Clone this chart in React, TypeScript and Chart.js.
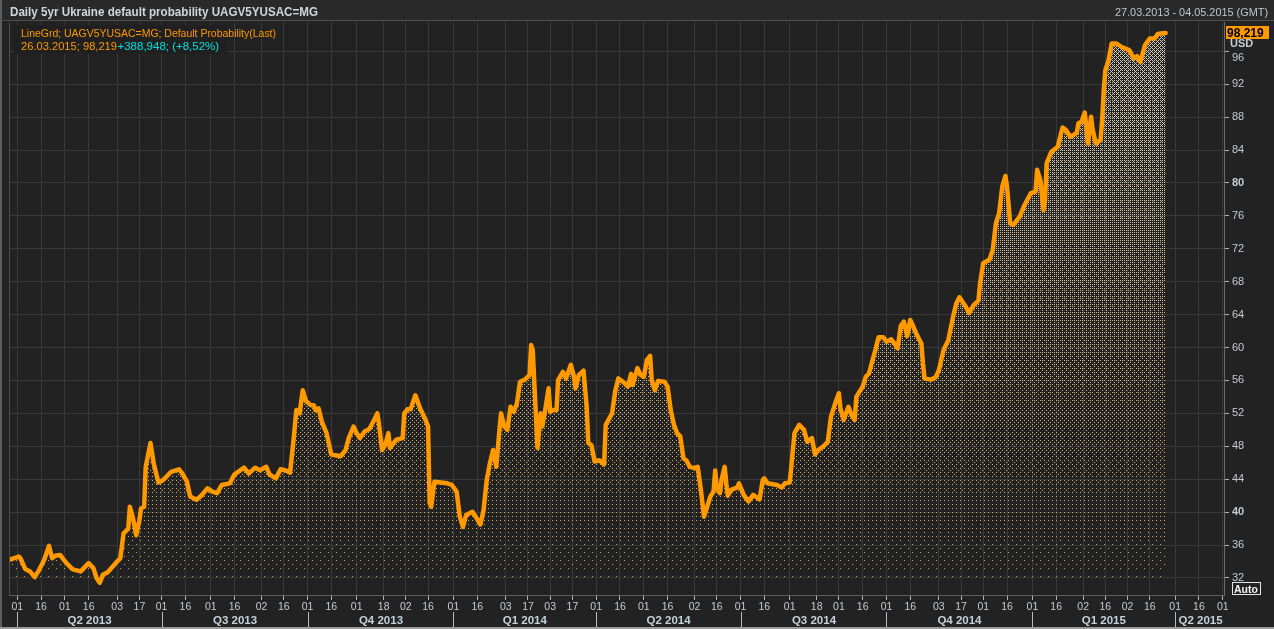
import React, { useEffect, useRef } from 'react';
import { Chart, registerables } from 'chart.js';

Chart.register(...registerables);

const W = 1274;
const H = 629;
const ORANGE = '#ff9900';
const CYAN = '#00e0e0';
const BG = '#212221';
const GRID = '#383938';
const TEXT = '#c4ccd4';
const FONT = '"Liberation Sans", Arial, sans-serif';

const title = 'Daily 5yr Ukraine default probability UAGV5YUSAC=MG';
const rangeText = '27.03.2013 - 04.05.2015 (GMT)';
const legendLine1 = 'LineGrd; UAGV5YUSAC=MG; Default Probability(Last)';
const legendLine2a = '26.03.2015; 98,219';
const legendLine2b = '+388,948; (+8,52%)';
const lastValueLabel = '98,219';
const unitLabel = 'USD';

const dates = [
  '2013-03-27', '2013-04-02', '2013-04-03', '2013-04-06', '2013-04-09', '2013-04-12', '2013-04-15', '2013-04-18', '2013-04-21', '2013-04-23', '2013-04-25', '2013-04-28',
  '2013-05-02', '2013-05-06', '2013-05-11', '2013-05-16', '2013-05-19', '2013-05-21', '2013-05-23', '2013-05-25', '2013-05-28',
  '2013-06-02', '2013-06-05', '2013-06-07', '2013-06-10', '2013-06-11', '2013-06-13', '2013-06-15', '2013-06-17', '2013-06-18', '2013-06-20', '2013-06-21', '2013-06-24', '2013-06-26', '2013-06-29',
  '2013-07-02', '2013-07-04', '2013-07-07', '2013-07-12', '2013-07-14', '2013-07-17', '2013-07-19', '2013-07-23', '2013-07-26', '2013-07-30',
  '2013-08-02', '2013-08-05', '2013-08-08', '2013-08-13', '2013-08-16', '2013-08-22', '2013-08-25', '2013-08-29',
  '2013-09-01', '2013-09-05', '2013-09-07', '2013-09-11', '2013-09-14', '2013-09-17', '2013-09-20', '2013-09-22', '2013-09-24', '2013-09-26', '2013-09-28', '2013-09-30',
  '2013-10-03', '2013-10-05', '2013-10-06', '2013-10-08', '2013-10-10', '2013-10-13', '2013-10-16', '2013-10-22', '2013-10-25', '2013-10-27', '2013-10-30',
  '2013-11-01', '2013-11-03', '2013-11-06', '2013-11-09', '2013-11-12', '2013-11-14', '2013-11-15', '2013-11-17', '2013-11-19', '2013-11-21', '2013-11-22', '2013-11-26', '2013-11-30',
  '2013-12-01', '2013-12-03', '2013-12-05', '2013-12-08', '2013-12-11', '2013-12-14', '2013-12-16', '2013-12-17', '2013-12-18', '2013-12-20', '2013-12-28', '2013-12-31',
  '2014-01-03', '2014-01-05', '2014-01-07', '2014-01-09', '2014-01-13', '2014-01-15', '2014-01-18', '2014-01-20', '2014-01-22', '2014-01-24', '2014-01-26', '2014-01-28', '2014-01-30', '2014-01-31',
  '2014-02-02', '2014-02-04', '2014-02-06', '2014-02-08', '2014-02-10', '2014-02-12', '2014-02-15', '2014-02-18', '2014-02-19', '2014-02-20', '2014-02-21', '2014-02-23', '2014-02-25', '2014-02-26', '2014-02-28',
  '2014-03-02', '2014-03-03', '2014-03-05', '2014-03-07', '2014-03-08', '2014-03-11', '2014-03-13', '2014-03-16', '2014-03-18', '2014-03-19', '2014-03-21', '2014-03-24', '2014-03-26', '2014-03-27', '2014-03-29', '2014-03-31',
  '2014-04-03', '2014-04-06', '2014-04-07', '2014-04-11', '2014-04-13', '2014-04-15', '2014-04-19', '2014-04-21', '2014-04-23', '2014-04-24', '2014-04-27', '2014-04-29',
  '2014-05-01', '2014-05-03', '2014-05-05', '2014-05-06', '2014-05-08', '2014-05-10', '2014-05-14', '2014-05-16', '2014-05-18', '2014-05-20', '2014-05-22', '2014-05-24', '2014-05-26', '2014-05-28', '2014-05-30',
  '2014-06-02', '2014-06-04', '2014-06-06', '2014-06-08', '2014-06-12', '2014-06-14', '2014-06-15', '2014-06-16', '2014-06-18', '2014-06-19', '2014-06-21', '2014-06-22', '2014-06-23', '2014-06-25', '2014-06-29', '2014-06-30',
  '2014-07-03', '2014-07-06', '2014-07-09', '2014-07-13', '2014-07-15', '2014-07-16', '2014-07-18', '2014-07-24', '2014-07-27', '2014-07-29',
  '2014-08-01', '2014-08-02', '2014-08-04', '2014-08-07', '2014-08-10', '2014-08-12', '2014-08-15', '2014-08-17', '2014-08-19', '2014-08-22', '2014-08-25', '2014-08-27', '2014-08-30',
  '2014-09-01', '2014-09-02', '2014-09-04', '2014-09-07', '2014-09-09', '2014-09-11', '2014-09-12', '2014-09-16', '2014-09-18', '2014-09-20', '2014-09-22', '2014-09-24', '2014-09-26', '2014-09-29',
  '2014-10-01', '2014-10-04', '2014-10-06', '2014-10-08', '2014-10-10', '2014-10-12', '2014-10-14', '2014-10-16', '2014-10-18', '2014-10-20', '2014-10-23', '2014-10-24', '2014-10-25', '2014-10-29',
  '2014-11-01', '2014-11-03', '2014-11-06', '2014-11-09', '2014-11-12', '2014-11-14', '2014-11-16', '2014-11-20', '2014-11-22', '2014-11-25', '2014-11-28', '2014-11-29',
  '2014-12-01', '2014-12-05', '2014-12-07', '2014-12-09', '2014-12-11', '2014-12-13', '2014-12-15', '2014-12-16', '2014-12-18', '2014-12-20', '2014-12-24', '2014-12-27', '2014-12-31',
  '2015-01-03', '2015-01-04', '2015-01-06', '2015-01-08', '2015-01-09', '2015-01-10', '2015-01-13', '2015-01-15', '2015-01-17', '2015-01-20', '2015-01-22', '2015-01-25', '2015-01-29', '2015-01-30',
  '2015-02-01', '2015-02-03', '2015-02-04', '2015-02-05', '2015-02-07', '2015-02-08', '2015-02-10', '2015-02-13', '2015-02-14', '2015-02-15', '2015-02-16', '2015-02-18', '2015-02-20', '2015-02-23', '2015-02-26',
  '2015-03-03', '2015-03-06', '2015-03-08', '2015-03-10', '2015-03-13', '2015-03-16', '2015-03-19', '2015-03-21', '2015-03-24', '2015-03-26',
];

const values = [
  34.2, 34.6, 34.4, 33.1, 32.8, 32.1, 33.05, 34.2, 35.9, 34.4, 34.7, 34.8,
  33.8, 33.05, 32.8, 33.8, 33.2, 32.0, 31.4, 32.4, 32.7,
  33.8, 34.4, 37.4, 38.0, 40.65, 39.25, 37.2, 39.0, 40.45, 40.65, 45.5, 48.4, 45.95, 43.6,
  43.9, 44.3, 44.9, 45.2, 44.7, 43.7, 41.9, 41.5, 42.0, 42.9,
  42.5, 42.3, 43.3, 43.5, 44.6, 45.4, 44.7, 45.4,
  45.1, 45.5, 44.6, 44.1, 45.2, 45.1, 44.8, 48.4, 52.4, 52.0, 54.8, 53.5,
  53.0, 53.0, 52.4, 52.6, 51.0, 49.6, 47.0, 46.8, 47.55, 49.0, 50.4,
  49.6, 49.0, 49.8, 50.1, 51.2, 52.0, 50.8, 47.55, 48.15, 49.6, 47.8, 48.8, 49.0,
  52.0, 52.5, 52.5, 54.2, 52.6, 51.4, 50.4, 41.1, 40.65, 43.7, 43.5, 43.3,
  42.5, 39.45, 38.2, 39.65, 40.05, 39.45, 38.5, 40.25, 43.9, 45.95, 47.55, 45.5, 50.0, 52.0,
  50.4, 50.0, 52.8, 52.2, 53.2, 55.85, 56.1, 56.65, 60.3, 59.7, 55.65, 47.8, 52.0, 50.4, 52.6,
  55.05, 52.2, 52.4, 52.4, 56.05, 57.05, 56.25, 57.9, 56.45, 55.05, 56.65, 57.2, 52.8, 48.4, 48.15, 46.15,
  46.3, 45.8, 50.6, 52.0, 54.7, 56.25, 55.65, 55.25, 56.8, 55.45, 57.5, 56.65,
  56.45, 58.5, 59.0, 56.05, 54.8, 55.95, 55.85, 55.25, 52.4, 50.6, 49.6, 49.2, 46.55, 46.25, 45.5,
  45.35, 45.5, 42.7, 39.45, 41.9, 42.5, 45.05, 43.1, 42.3, 43.9, 45.5, 43.5, 42.0, 42.7, 43.0, 43.5,
  42.1, 41.3, 42.1, 41.55, 43.9, 44.1, 43.5, 43.3, 43.0, 43.5,
  43.6, 45.5, 49.6, 50.6, 50.0, 48.55, 49.0, 47.0, 47.55, 47.95, 48.55, 51.6, 53.4,
  54.45, 52.6, 51.2, 52.8, 51.8, 51.2, 54.0, 55.25, 56.45, 56.85, 58.3, 59.7, 61.25, 61.25,
  60.7, 61.0, 60.5, 59.9, 62.6, 63.15, 61.4, 63.35, 62.5, 61.6, 60.5, 58.1, 56.25, 56.1,
  56.4, 57.2, 59.7, 60.9, 63.75, 65.35, 66.1, 64.95, 64.2, 65.15, 65.7, 67.8,
  70.25, 70.7, 71.85, 75.1, 76.3, 79.55, 80.85, 79.55, 75.1, 74.9, 75.9, 77.3, 78.75,
  78.95, 81.6, 80.35, 76.7, 77.9, 82.4, 83.8, 84.1, 84.4, 86.75, 86.45, 85.6, 86.1, 87.25,
  87.45, 88.55, 86.85, 84.8, 88.05, 86.45, 84.8, 85.2, 87.65, 91.3, 93.7, 94.9, 96.95, 96.95, 96.55,
  96.15, 95.15, 95.4, 94.7, 96.75, 97.55, 97.55, 98.1, 98.2, 98.219,
];

const tickDates = [
  '2013-04-01', '2013-04-16', '2013-05-01', '2013-05-16', '2013-06-03', '2013-06-17', '2013-07-01', '2013-07-16', '2013-08-01', '2013-08-16', '2013-09-02', '2013-09-16',
  '2013-10-01', '2013-10-16', '2013-11-01', '2013-11-18', '2013-12-02', '2013-12-16',
  '2014-01-01', '2014-01-16', '2014-02-03', '2014-02-17', '2014-03-03', '2014-03-17', '2014-04-01', '2014-04-16', '2014-05-01', '2014-05-16', '2014-06-02', '2014-06-16',
  '2014-07-01', '2014-07-16', '2014-08-01', '2014-08-18', '2014-09-01', '2014-09-16', '2014-10-01', '2014-10-16', '2014-11-03', '2014-11-17', '2014-12-01', '2014-12-16',
  '2015-01-01', '2015-01-16', '2015-02-02', '2015-02-16', '2015-03-02', '2015-03-16', '2015-04-01', '2015-04-16', '2015-05-01',
];

const quarterStarts = ['2013-04-01', '2013-07-01', '2013-10-01', '2014-01-01', '2014-04-01', '2014-07-01', '2014-10-01', '2015-01-01', '2015-04-01'];
const quarterLabels = ['Q2 2013', 'Q3 2013', 'Q4 2013', 'Q1 2014', 'Q2 2014', 'Q3 2014', 'Q4 2014', 'Q1 2015', 'Q2 2015'];

const yTickValues = [32, 36, 40, 44, 48, 52, 56, 60, 64, 68, 72, 76, 80, 84, 88, 92, 96];
const boldYTicks = [40, 80];
const shiftedYTick = 96;
const Y_MIN = 29.93;
const Y_MAX = 99.56;
const FILL_BASE = 31.6;

const DAY = 86400000;
const toDay = (s: string) => {
  const [y, m, d] = s.split('-').map(Number);
  return Date.UTC(y, m - 1, d) / DAY;
};
const X_MIN = toDay('2013-03-27') - 0.2;
const X_MAX = toDay('2015-05-01') + 0.8;

const BAYER = [
  [0, 32, 8, 40, 2, 34, 10, 42],
  [48, 16, 56, 24, 50, 18, 58, 26],
  [12, 44, 4, 36, 14, 46, 6, 38],
  [60, 28, 52, 20, 62, 30, 54, 22],
  [3, 35, 11, 43, 1, 33, 9, 41],
  [51, 19, 59, 27, 49, 17, 57, 25],
  [15, 47, 7, 39, 13, 45, 5, 37],
  [63, 31, 55, 23, 61, 29, 53, 21],
];

function makeDitherCanvas() {
  const c = document.createElement('canvas');
  c.width = W;
  c.height = H;
  const g = c.getContext('2d') as CanvasRenderingContext2D;
  const img = g.createImageData(W, H);
  for (let y = 0; y < H; y++) {
    let d = 0.018 + 0.36 * (575 - y) / 535;
    if (d > 0.38) d = 0.38;
    if (d < 0.017) d = 0.017;
    const t = Math.sqrt(Math.max(0, Math.min(1, (575 - y) / 535)));
    const r = Math.round(232 - 22 * t);
    const gg = Math.round(150 + 55 * t);
    const b = Math.round(40 + 145 * t);
    for (let x = 0; x < W; x++) {
      if ((BAYER[y & 7][x & 7] + 0.5) / 64 < d) {
        const i = (y * W + x) * 4;
        img.data[i] = r;
        img.data[i + 1] = gg;
        img.data[i + 2] = b;
        img.data[i + 3] = 255;
      }
    }
  }
  g.putImageData(img, 0, 0);
  return c;
}

const decor = {
  id: 'decor',
  beforeDraw(chart: any) {
    const ctx = chart.ctx;
    ctx.save();
    ctx.fillStyle = BG;
    ctx.fillRect(0, 0, W, H);
    ctx.fillStyle = '#282928';
    ctx.fillRect(0, 0, W, 21);
    ctx.restore();
  },
  afterDraw(chart: any) {
    const ctx = chart.ctx;
    const a = chart.chartArea;
    const xs = chart.scales.x;
    const ys = chart.scales.y;
    ctx.save();
    // plot frame top/left
    ctx.strokeStyle = '#4e4f4e';
    ctx.lineWidth = 1;
    ctx.beginPath();
    ctx.moveTo(0, 20.5);
    ctx.lineTo(W, 20.5);
    ctx.moveTo(a.left + 0.5, a.top);
    ctx.lineTo(a.left + 0.5, a.bottom);
    ctx.stroke();

    // title bar
    ctx.textBaseline = 'alphabetic';
    ctx.fillStyle = '#d0d6dc';
    ctx.font = `bold 12.5px ${FONT}`;
    ctx.textAlign = 'left';
    ctx.fillText(title, 10, 16, 308);
    ctx.fillStyle = '#c0c6cc';
    ctx.font = `11px ${FONT}`;
    ctx.textAlign = 'right';
    ctx.fillText(rangeText, 1268, 16, 153);

    // legend box
    ctx.fillStyle = '#1f201f';
    ctx.fillRect(14, 25, 213, 29);
    ctx.textAlign = 'left';
    ctx.font = `11.5px ${FONT}`;
    ctx.fillStyle = ORANGE;
    ctx.fillText(legendLine1, 21, 37, 255);
    ctx.fillText(legendLine2a, 21, 50, 96);
    ctx.fillStyle = CYAN;
    ctx.fillText(legendLine2b, 117.5, 50, 104);

    // shifted top y label (pushed below the unit label as in the original)
    ctx.fillStyle = TEXT;
    ctx.font = `11px ${FONT}`;
    ctx.textAlign = 'left';
    ctx.textBaseline = 'middle';
    ctx.fillText(String(shiftedYTick), a.right + 8, ys.getPixelForValue(shiftedYTick) + 7);
    ctx.textBaseline = 'alphabetic';

    // quarter labels
    ctx.strokeStyle = '#b8bcc0';
    ctx.fillStyle = '#c8d0d8';
    ctx.font = `bold 11.5px ${FONT}`;
    for (let i = 0; i < quarterStarts.length; i++) {
      const x0 = Math.round(xs.getPixelForValue(toDay(quarterStarts[i]))) + 0.5;
      ctx.beginPath();
      ctx.moveTo(x0, 612);
      ctx.lineTo(x0, 627);
      ctx.stroke();
      if (i < quarterStarts.length - 1) {
        const x1 = xs.getPixelForValue(toDay(quarterStarts[i + 1]));
        ctx.textAlign = 'center';
        ctx.fillText(quarterLabels[i], (x0 + x1) / 2, 623.5);
      } else {
        ctx.textAlign = 'left';
        ctx.fillText(quarterLabels[i], x0 + 3, 623.5, a.right - x0 - 3);
      }
    }

    // last value box
    ctx.fillStyle = ORANGE;
    ctx.fillRect(1226, 26, 43, 13);
    ctx.fillStyle = '#000000';
    ctx.font = `bold 12px ${FONT}`;
    ctx.textAlign = 'left';
    ctx.fillText(lastValueLabel, 1227, 37, 40);
    ctx.fillStyle = '#c8ccd0';
    ctx.font = `bold 11px ${FONT}`;
    ctx.fillText(unitLabel, 1230, 47);

    // Auto box
    ctx.strokeStyle = '#e8e8e8';
    ctx.strokeRect(1232.5, 582.5, 28, 12);
    ctx.fillStyle = '#f0f0f0';
    ctx.font = `bold 10.5px ${FONT}`;
    ctx.fillText('Auto', 1234, 593, 25);

    // outer frame
    ctx.fillStyle = '#5c5d5c';
    ctx.fillRect(0, 0, 2, H);
    ctx.fillStyle = '#9a9a9a';
    ctx.fillRect(0, H - 2, W, 2);
    ctx.restore();
  },
};

export default function App() {
  const ref = useRef<HTMLCanvasElement | null>(null);

  useEffect(() => {
    const canvas = ref.current;
    if (!canvas) return;
    const ctx = canvas.getContext('2d') as CanvasRenderingContext2D;
    const pattern = ctx.createPattern(makeDitherCanvas(), 'no-repeat');
    const points = dates.map((d, i) => ({ x: toDay(d), y: values[i] }));

    const chart = new Chart(canvas, {
      type: 'line',
      data: {
        datasets: [
          {
            data: points,
            borderColor: ORANGE,
            borderWidth: 4.5,
            pointRadius: 0,
            tension: 0,
            borderJoinStyle: 'round',
            borderCapStyle: 'round',
            backgroundColor: pattern as any,
            fill: { value: FILL_BASE },
          },
        ],
      },
      options: {
        animation: false,
        responsive: false,
        devicePixelRatio: 1,
        layout: { padding: { left: 9, top: 22, right: 0, bottom: 0 } },
        plugins: { legend: { display: false }, tooltip: { enabled: false }, title: { display: false } },
        scales: {
          x: {
            type: 'linear',
            min: X_MIN,
            max: X_MAX,
            afterBuildTicks: (s: any) => {
              s.ticks = tickDates.map((d) => ({ value: toDay(d) }));
            },
            afterFit: (s: any) => {
              s.height = 34;
            },
            grid: { color: GRID, lineWidth: 1, drawTicks: true, tickLength: 5, tickColor: '#b0b4b8' },
            border: { display: true, color: '#5e5f5e' },
            ticks: {
              autoSkip: false,
              maxRotation: 0,
              padding: 1,
              color: TEXT,
              font: { family: FONT, size: 10.5 },
              callback: (_v: any, i: number) => tickDates[i].slice(8, 10),
            },
          },
          y: {
            position: 'right',
            min: Y_MIN,
            max: Y_MAX,
            afterBuildTicks: (s: any) => {
              s.ticks = yTickValues.map((v) => ({ value: v }));
            },
            afterFit: (s: any) => {
              s.width = 50;
            },
            grid: { color: GRID, lineWidth: 1, drawTicks: true, tickLength: 5, tickColor: '#b0b4b8' },
            border: { display: true, color: '#6a6b6a' },
            ticks: {
              padding: 3,
              color: TEXT,
              font: (c: any) => ({
                family: FONT,
                size: 11,
                weight: c.tick && boldYTicks.includes(c.tick.value) ? 'bold' : 'normal',
              }),
              callback: (v: any) => (v === shiftedYTick ? '' : String(v)),
            },
          },
        },
      },
      plugins: [decor],
    } as any);

    return () => chart.destroy();
  }, []);

  return (
    <div style={{ position: 'fixed', left: 0, top: 0, width: W, height: H, background: BG }}>
      <canvas ref={ref} width={W} height={H} style={{ display: 'block', width: W, height: H }} />
    </div>
  );
}
